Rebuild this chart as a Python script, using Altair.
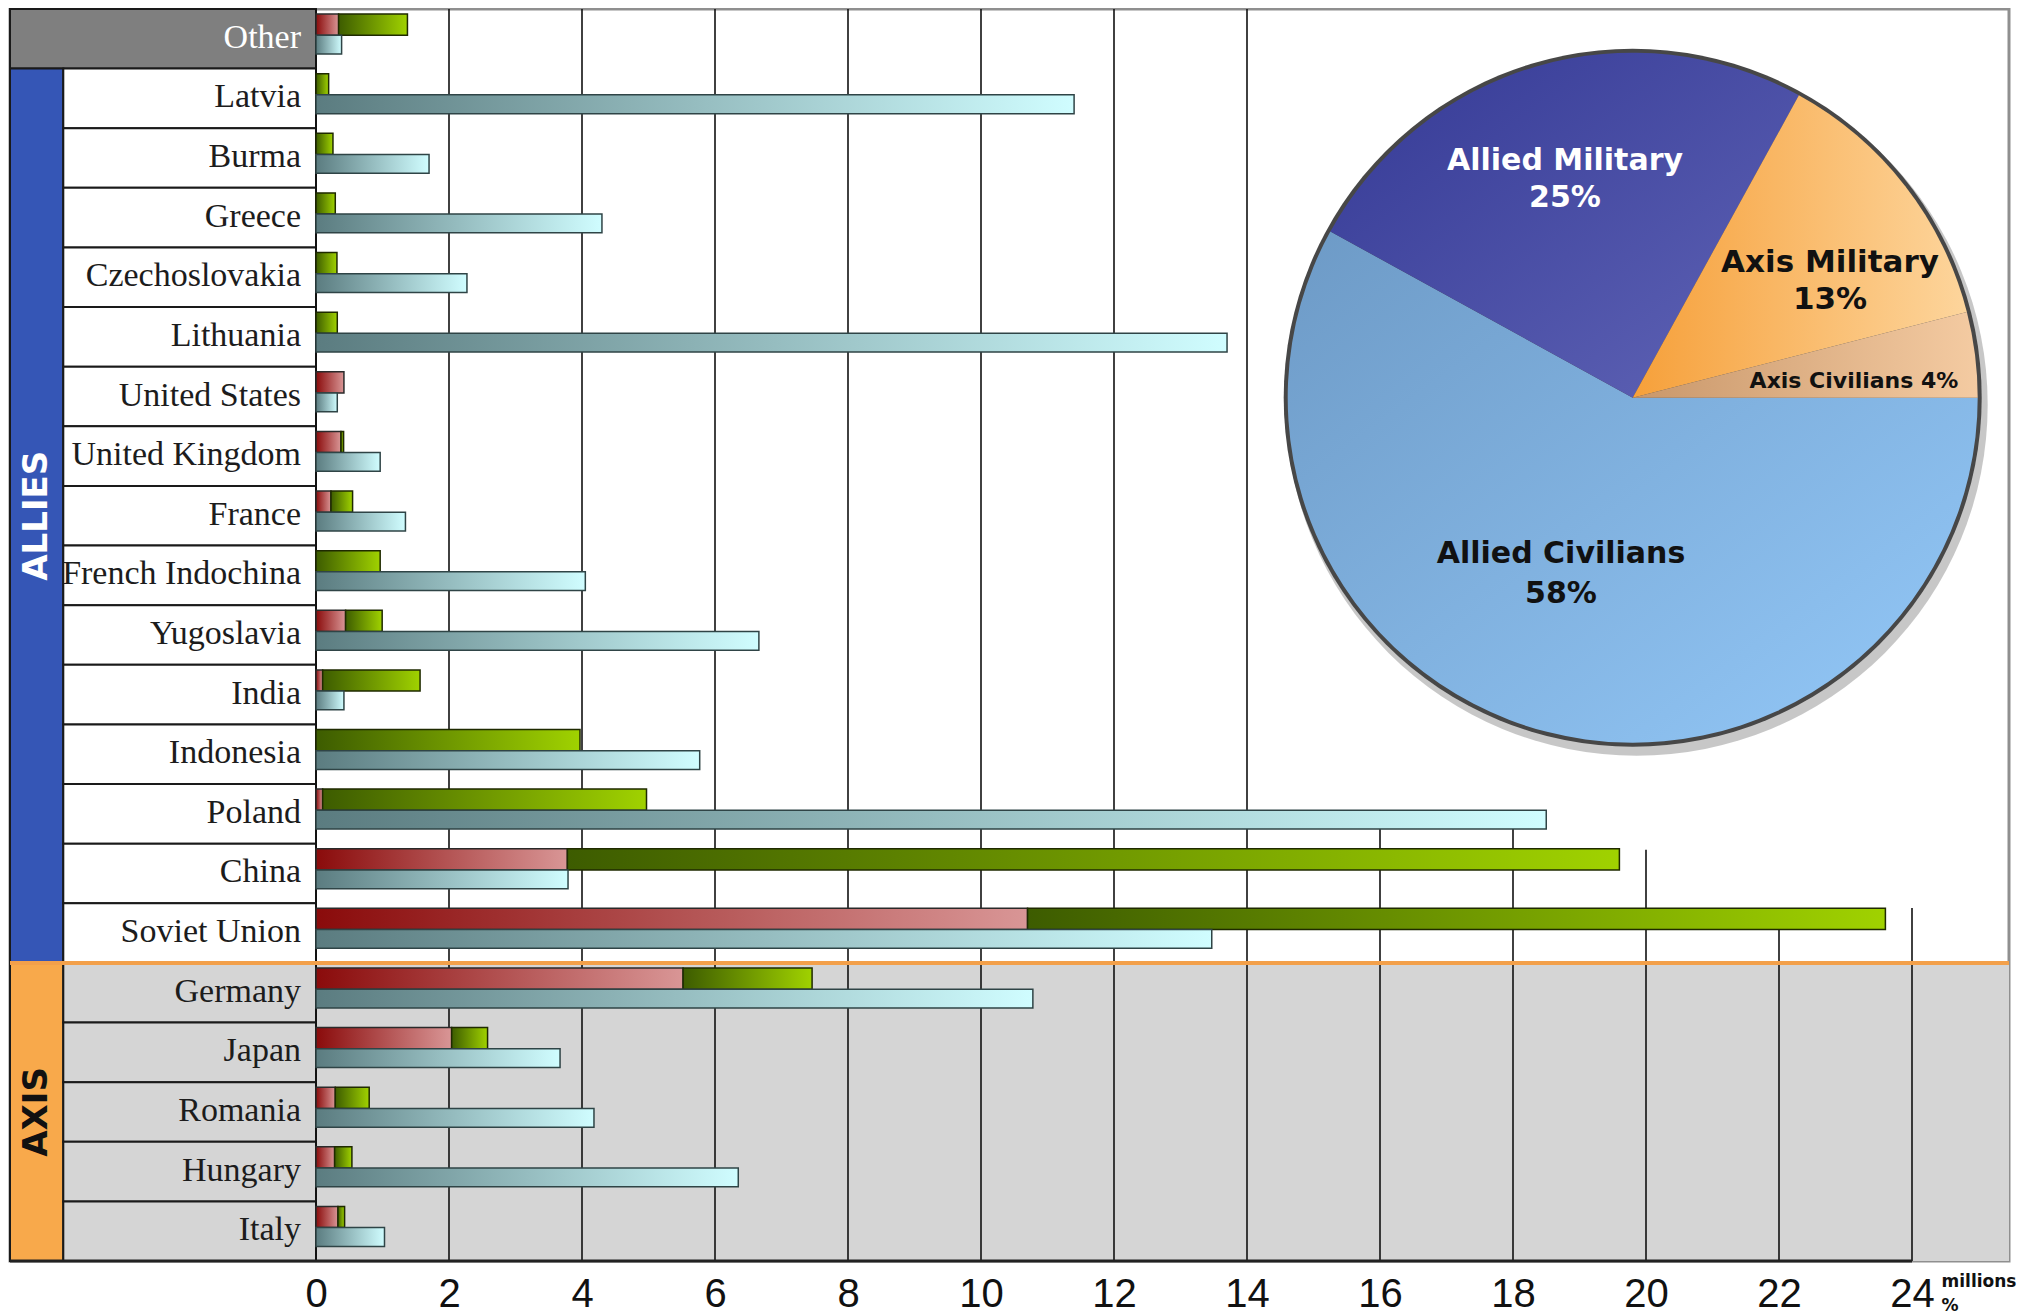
import math
import altair as alt
import pandas as pd

# ---------------- data ----------------
countries = ["Other", "Latvia", "Burma", "Greece", "Czechoslovakia", "Lithuania",
             "United States", "United Kingdom", "France", "French Indochina",
             "Yugoslavia", "India", "Indonesia", "Poland", "China", "Soviet Union",
             "Germany", "Japan", "Romania", "Hungary", "Italy"]
groups = ["Other"] + ["Allies"] * 15 + ["Axis"] * 5
military = [0.34, 0, 0, 0, 0, 0, 0.42, 0.375, 0.225, 0, 0.445, 0.1, 0, 0.1, 3.78, 10.7,
            5.52, 2.04, 0.29, 0.28, 0.33]
total = [1.375, 0.19, 0.255, 0.29, 0.315, 0.32, 0.42, 0.415, 0.55, 0.965, 0.995, 1.565,
         3.97, 4.97, 19.6, 23.6, 7.46, 2.58, 0.8, 0.54, 0.43]
percent = [0.385, 11.4, 1.7, 4.3, 2.27, 13.7, 0.32, 0.965, 1.345, 4.05, 6.66, 0.42, 5.77,
           18.5, 3.79, 13.47, 10.78, 3.67, 4.18, 6.35, 1.03]

pie_slices = ["Allied Civilians", "Allied Military", "Axis Military", "Axis Civilians"]
pie_shares = [58, 25, 13, 4]

ticks = list(range(0, 26, 2))
unit_labels = ["millions", "%"]

# ---------------- layout ----------------
W, H = 1999, 1252
PX_PER_UNIT = 66.5
ZERO_PX = 306
XMIN = -ZERO_PX / PX_PER_UNIT
XMAX = XMIN + W / PX_PER_UNIT
BAND_EDGE = -3.8
N = len(countries)
GRID_TOP = {16: 13.45, 18: 13.45, 20: 14.1, 22: 15.08, 24: 15.08}
CX, CY = 1622.7, 388.7
PIE_LABEL_POS = {
    "Allied Military": [("slice", 1555, 152, 30), ("pct", 1555, 189, 30)],
    "Axis Military": [("slice", 1820, 254, 31), ("pct", 1820, 291, 31)],
    "Axis Civilians": [("full", 1844, 372, 22)],
    "Allied Civilians": [("slice", 1551, 545, 30), ("pct", 1551, 585, 30)],
}
PIE_TEXT_COLOR = {"Allied Military": "white", "Axis Military": "#111",
                  "Axis Civilians": "#111", "Allied Civilians": "#111"}


def grad(c0, c1, diag=False):
    return {"gradient": "linear", "x1": 0, "y1": 0, "x2": 1, "y2": 1 if diag else 0,
            "stops": [{"offset": 0, "color": c0}, {"offset": 1, "color": c1}]}


RED = grad("#8a0b0b", "#d99696")
GREEN = grad("#3d5c00", "#a0d200")
CYAN = grad("#5b7c80", "#d0fdff")
PIE_GRAD = {
    "Allied Civilians": grad("#6d9ac6", "#94c9f9", True),
    "Allied Military": grad("#343995", "#6064b6", True),
    "Axis Military": grad("#f6a03a", "#fdd59c", False),
    "Axis Civilians": grad("#c9976a", "#f4cba2", False),
}

# ---------------- tables ----------------
df = pd.DataFrame({"country": countries, "group": groups, "military": military,
                   "total": total, "percent": percent})
df["idx"] = range(N)

reg = df.groupby("group", sort=False)["idx"].agg(["min", "max"]).reset_index()
reg["r0"] = reg["min"]
reg["r1"] = reg["max"] + 1
reg["x0"] = XMIN
reg["x1"] = [0 if g == "Other" else BAND_EDGE for g in reg["group"]]
reg["xmax"] = XMAX
reg["xmid"] = (XMIN + BAND_EDGE) / 2
reg["ymid"] = (reg["r0"] + reg["r1"]) / 2
reg["label"] = reg["group"].str.upper()
reg["xend"] = ticks[-1]

grid_df = pd.DataFrame({"tick": ticks})
grid_df["top"] = [GRID_TOP.get(t, 0) for t in ticks]
grid_df["bottom"] = N

pie_df = pd.DataFrame({"slice": pie_slices, "share": pie_shares,
                       "order": range(len(pie_slices))})
units_df = pd.DataFrame({"u": unit_labels})

# ---------------- scales ----------------
xscale = alt.Scale(domain=[XMIN, XMAX], nice=False, zero=False)
yscale = alt.Scale(domain=[0, N], reverse=True, nice=False, zero=False)
xaxis = alt.Axis(values=ticks, title=None, grid=False, domain=False, ticks=False,
                 labelFontSize=40, labelFont="Liberation Sans",
                 labelColor="#111", labelPadding=13, labelFlush=False, labelOverlap=False)
theta_scale = alt.Scale(domain=[0, sum(pie_shares)],
                        range=[math.pi / 2, math.pi / 2 + 2 * math.pi])


def X(f):
    return alt.X(field=f, type="quantitative", scale=xscale, axis=xaxis)


def Y(f):
    return alt.Y(field=f, type="quantitative", scale=yscale, axis=None)


layers = []

# axis-region background
layers.append(alt.Chart(reg).transform_filter(alt.datum.group == "Axis")
              .mark_rect(color="#d5d5d5")
              .encode(x=X("x0"), x2=alt.X2("xmax"), y=Y("r0"), y2=alt.Y2("r1")))

# left group bands
layers.append(alt.Chart(reg).mark_rect(stroke="#1a1a1a", strokeWidth=2)
              .encode(x=X("x0"), x2=alt.X2("x1"), y=Y("r0"), y2=alt.Y2("r1"),
                      color=alt.Color("group:N", legend=None,
                                      scale=alt.Scale(domain=["Other", "Allies", "Axis"],
                                                      range=["#7f7f7f", "#3556b6", "#f8a94b"]))))

base = alt.Chart(df).transform_calculate(
    zero="0", band=str(BAND_EDGE), r1="datum.idx + 1", mid="datum.idx + 0.5",
    t0="datum.idx + 0.085", t1="datum.idx + 0.44",
    c0="datum.idx + 0.44", c1="datum.idx + 0.755")

# label boxes
layers.append(base.transform_filter(alt.datum.group != "Other")
              .mark_rect(stroke="#1a1a1a", strokeWidth=2)
              .encode(x=X("band"), x2=alt.X2("zero"), y=Y("idx"), y2=alt.Y2("r1"),
                      fill=alt.condition(alt.datum.group == "Axis",
                                         alt.value("#d5d5d5"), alt.value("white"))))

# grid lines
layers.append(alt.Chart(grid_df).mark_rule(color="#111", strokeWidth=1.6)
              .encode(x=X("tick"), y=Y("top"), y2=alt.Y2("bottom")))

# allies / axis separator
layers.append(alt.Chart(reg).transform_filter(alt.datum.group == "Axis")
              .mark_rule(color="#f3a04a", strokeWidth=4)
              .encode(x=X("x0"), x2=alt.X2("xmax"), y=Y("r0")))

# bottom line
layers.append(alt.Chart(reg).transform_filter(alt.datum.group == "Axis")
              .mark_rule(color="#222", strokeWidth=3)
              .encode(x=X("x0"), x2=alt.X2("xend"), y=Y("r1")))

# bars
layers.append(base.transform_filter("datum.military > 0")
              .mark_rect(color=RED, stroke="#2a2a2a", strokeWidth=1.5)
              .encode(x=X("zero"), x2=alt.X2("military"), y=Y("t0"), y2=alt.Y2("t1")))
layers.append(base.transform_filter("datum.total > datum.military")
              .mark_rect(color=GREEN, stroke="#1f2a00", strokeWidth=1.5)
              .encode(x=X("military"), x2=alt.X2("total"), y=Y("t0"), y2=alt.Y2("t1")))
layers.append(base.mark_rect(color=CYAN, stroke="#2f4446", strokeWidth=1.5)
              .encode(x=X("zero"), x2=alt.X2("percent"), y=Y("c0"), y2=alt.Y2("c1")))

# country labels
layers.append(base.mark_text(align="right", baseline="middle", dx=-15, dy=-1,
                             font="Liberation Serif", fontSize=34)
              .encode(x=X("zero"), y=Y("mid"), text=alt.Text("country:N"),
                      color=alt.condition(alt.datum.group == "Other",
                                          alt.value("white"), alt.value("#1c1c1c"))))

# group labels
layers.append(alt.Chart(reg).transform_filter(alt.datum.group != "Other")
              .mark_text(angle=270, align="center", baseline="middle",
                         font="DejaVu Sans", fontWeight="bold", fontSize=34)
              .encode(x=X("xmid"), y=Y("ymid"), text=alt.Text("label:N"),
                      color=alt.condition(alt.datum.group == "Axis",
                                          alt.value("#111"), alt.value("white"))))

# pie: shadow, outline ring and slices
pie_total = alt.Chart(pie_df).transform_aggregate(tot="sum(share)").transform_calculate(z="0")
layers.append(pie_total.mark_arc(radius=351, color="rgba(0,0,0,0.22)")
              .encode(theta=alt.Theta("z:Q", scale=theta_scale), theta2=alt.Theta2("tot:Q"),
                      x=alt.value(CX + 4), y=alt.value(CY + 7)))
layers.append(pie_total.mark_arc(radius=349, color="#474747")
              .encode(theta=alt.Theta("z:Q", scale=theta_scale), theta2=alt.Theta2("tot:Q"),
                      x=alt.value(CX), y=alt.value(CY)))

pie_base = (alt.Chart(pie_df)
            .transform_window(end="sum(share)", sort=[alt.SortField("order")], frame=[None, 0])
            .transform_calculate(start="datum.end - datum.share",
                                 pct="datum.share + '%'",
                                 full="datum.slice + ' ' + datum.share + '%'"))
for s in pie_slices:
    layers.append(pie_base.transform_filter(alt.datum.slice == s)
                  .mark_arc(radius=345, color=PIE_GRAD[s])
                  .encode(theta=alt.Theta("start:Q", scale=theta_scale),
                          theta2=alt.Theta2("end:Q"),
                          x=alt.value(CX), y=alt.value(CY)))
for s in pie_slices:
    for field, px, py, fs in PIE_LABEL_POS[s]:
        layers.append(pie_base.transform_filter(alt.datum.slice == s)
                      .mark_text(align="center", baseline="middle", font="DejaVu Sans",
                                 fontWeight="bold", fontSize=fs, color=PIE_TEXT_COLOR[s])
                      .encode(text=alt.Text(f"{field}:N"), x=alt.value(px), y=alt.value(py)))

# unit labels at the end of the axis
layers.append(alt.Chart(units_df).transform_filter(alt.datum.u == unit_labels[0])
              .mark_text(align="center", baseline="middle", font="DejaVu Sans",
                         fontWeight="bold", fontSize=17, color="#111")
              .encode(text="u:N", x=alt.value(1969), y=alt.value(1273)))
layers.append(alt.Chart(units_df).transform_filter(alt.datum.u == unit_labels[1])
              .mark_text(align="center", baseline="middle", font="DejaVu Sans",
                         fontWeight="bold", fontSize=17, color="#111")
              .encode(text="u:N", x=alt.value(1940), y=alt.value(1297)))

chart = (alt.layer(*layers)
         .properties(width=W, height=H, padding=0, background="white")
         .configure_view(stroke="#8f8f8f", strokeWidth=3))

chart.save("out.html", embed_options={"renderer": "svg", "actions": False})
